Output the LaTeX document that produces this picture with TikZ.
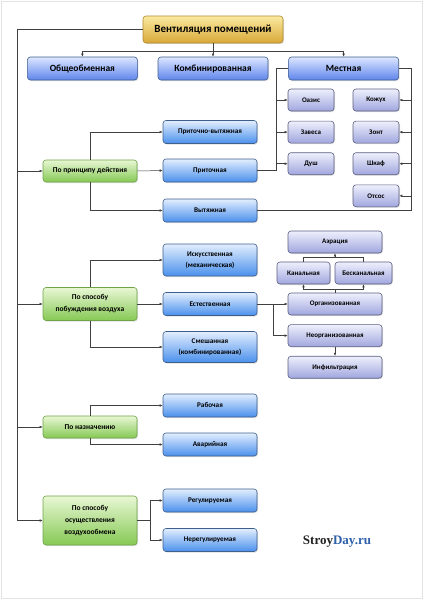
\documentclass[tikz,border=0pt]{standalone}
\usepackage{fontspec}
\setmainfont{Carlito}
\newfontfamily\siteserif{Liberation Serif}
\usepackage{xcolor}
\usepackage{tikz}
\usetikzlibrary{positioning,shadows,arrows.meta}

\definecolor{goldtop}{HTML}{FAEAA0}
\definecolor{goldbot}{HTML}{D8A838}
\definecolor{goldline}{HTML}{B08A30}
\definecolor{bluetop}{HTML}{E2EEFE}
\definecolor{bluebot}{HTML}{4A90EC}
\definecolor{blueline}{HTML}{3E5E8C}
\definecolor{roytop}{HTML}{DCE6FF}
\definecolor{roybot}{HTML}{5F85EC}
\definecolor{lilactop}{HTML}{EEF0FC}
\definecolor{lilacbot}{HTML}{A0A6DE}
\definecolor{lilacline}{HTML}{5A5E80}
\definecolor{greentop}{HTML}{E8F7D4}
\definecolor{greenbot}{HTML}{86C955}
\definecolor{greenline}{HTML}{6FA347}
\definecolor{sitedark}{HTML}{222222}
\definecolor{siteblue}{HTML}{2D5FAA}

\begin{document}
\begin{tikzpicture}[x=1pt, y=-1pt, font=\bfseries,
  box/.style={rectangle, rounded corners=3pt, draw, line width=0.6pt, align=center,
    inner sep=1pt, drop shadow={shadow xshift=1pt, shadow yshift=-1pt, opacity=0.25}},
  titlebox/.style={box, top color=goldtop, bottom color=goldbot, draw=goldline,
    minimum width=140pt, minimum height=27pt, font=\bfseries\fontsize{11}{13}\selectfont},
  mainbox/.style={box, top color=roytop, bottom color=roybot, draw=blueline,
    minimum width=110pt, minimum height=23pt, font=\bfseries\fontsize{9.5}{11}\selectfont},
  groupbox/.style={box, top color=greentop, bottom color=greenbot, draw=greenline,
    minimum width=94pt, minimum height=22pt, font=\bfseries\fontsize{7.5}{12}\selectfont},
  itembox/.style={box, top color=bluetop, bottom color=bluebot, draw=blueline,
    minimum width=94pt, minimum height=23pt, font=\bfseries\fontsize{7.2}{11.5}\selectfont},
  subbox/.style={box, top color=lilactop, bottom color=lilacbot, draw=lilacline,
    minimum width=94pt, minimum height=22pt, font=\bfseries\fontsize{7}{9}\selectfont},
  smallbox/.style={subbox, minimum width=46pt},
  arr/.style={-{Latex[length=3pt,width=2.6pt]}, line width=0.5pt, draw=black!75},
  wire/.style={line width=0.5pt, draw=black!75}]
 \useasboundingbox (0,0) rectangle (424,600);
 \draw[black!10, line width=0.8pt] (1.5,1.5) rectangle (422.5,598.5);

 % top level
 \node [titlebox] (title) at (213,29.5) {Вентиляция помещений};
 \node [mainbox] (comb)  at (213,68.5) {Комбинированная};
 \node [mainbox, left=20pt of comb]  (gen)   {Общеобменная};
 \node [mainbox, right=20pt of comb] (local) {Местная};

 % local devices
 \node [smallbox] (oasis)  at (311,100) {Оазис};
 \node [smallbox, below=9.5pt of oasis]  (curtain) {Завеса};
 \node [smallbox, below=9pt of curtain]  (shower)  {Душ};
 \node [smallbox] (casing) at (376,100) {Кожух};
 \node [smallbox, below=9.5pt of casing] (hood)    {Зонт};
 \node [smallbox, below=9pt of hood]     (cabinet) {Шкаф};
 \node [smallbox, below=9.5pt of cabinet] (suction) {Отсос};

 % groups
 \node [groupbox] (act)   at (90,171)   {По принципу действия};
 \node [groupbox, minimum height=33pt] (drive) at (90,304) {По способу\\побуждения воздуха};
 \node [groupbox] (aim)   at (90,427)   {По назначению};
 \node [groupbox, minimum height=49pt] (mode)  at (90,520.5) {По способу\\осуществления\\воздухообмена};

 % kinds
 \node [itembox] (inout)  at (210,132)   {Приточно-вытяжная};
 \node [itembox] (supply) at (210,170.5) {Приточная};
 \node [itembox] (extr)   at (210,210.5) {Вытяжная};
 \node [itembox, minimum height=32pt] (mech)  at (210,260) {Искусственная\\(механическая)};
 \node [itembox] (nat)    at (210,304)   {Естественная};
 \node [itembox, minimum height=31pt] (mixed) at (210,347) {Смешанная\\(комбинированная)};
 \node [itembox] (work)   at (210,405.5) {Рабочая};
 \node [itembox] (emerg)  at (210,444.5) {Аварийная};
 \node [itembox] (reg)    at (210,500.5) {Регулируемая};
 \node [itembox] (unreg)  at (210,540)   {Нерегулируемая};

 % natural ventilation
 \node [subbox] (org)    at (335,304) {Организованная};
 \node [subbox, below=9pt of org]     (unorg) {Неорганизованная};
 \node [subbox, below=9pt of unorg]   (infil) {Инфильтрация};
 \node [subbox] (aer)    at (335,242) {Аэрация};
 \node [subbox, minimum width=53pt] (duct)   at (303.5,273) {Канальная};
 \node [subbox, minimum width=57pt] (noduct) at (363.5,273) {Бесканальная};

 \node [font=\siteserif\bfseries\fontsize{13}{15}\selectfont] (site) at (337,542)
   {\textcolor{sitedark}{Stroy}\textcolor{siteblue}{Day.ru}};

 % knots
 \coordinate (spine) at (17,520.5);
 \coordinate (bus)   at (213,51);
 \coordinate (lk)    at (276,68.5);
 \coordinate (rk)    at (411,68.5);
 \coordinate (nk)    at (273,304);
 \coordinate (kb)    at (335,289);
 \coordinate (ka)    at (335,257);
 \coordinate (mk)    at (150,520.5);

 % connectors
  \draw[wire] (bus -| gen) -- (bus -| local);
  \draw[arr] (title.south) -- (comb.north);
  \draw[arr] (bus -| gen) -- (gen.north);
  \draw[arr] (bus -| local) -- (local.north);
  \draw[arr] (title.west) -| (spine) -- (mode.west);
  \draw[arr] (act.west -| spine) -- (act.west);
  \draw[arr] (drive.west -| spine) -- (drive.west);
  \draw[arr] (aim.west -| spine) -- (aim.west);
  \draw[wire] (local.west) -- (lk) |- (supply.east);
  \draw[wire] (local.east) -- (rk) |- (extr.east);
  \draw[arr] (oasis.west -| lk) -- (oasis.west);
  \draw[arr] (curtain.west -| lk) -- (curtain.west);
  \draw[arr] (shower.west -| lk) -- (shower.west);
  \draw[arr] (casing.east -| rk) -- (casing.east);
  \draw[arr] (hood.east -| rk) -- (hood.east);
  \draw[arr] (cabinet.east -| rk) -- (cabinet.east);
  \draw[arr] (suction.east -| rk) -- (suction.east);
  \draw[arr] (act.north) |- (inout.west);
  \draw[arr] (act.east) -- (supply.west);
  \draw[arr] (act.south) |- (extr.west);
  \draw[arr] (drive.north) |- (mech.west);
  \draw[arr] (drive.east) -- (nat.west);
  \draw[arr] (drive.south) |- (mixed.west);
  \draw[arr] (nat.east) -- (org.west);
  \draw[arr] (nk) |- (unorg.west);
  \draw[arr] (unorg.south) -- (infil.north);
  \draw[wire] (org.north) -- (kb);
  \draw[arr] (kb) -| (duct.south);
  \draw[arr] (kb) -| (noduct.south);
  \draw[wire] (duct.north) |- (ka);
  \draw[wire] (noduct.north) |- (ka);
  \draw[arr] (ka) -- (aer.south);
  \draw[arr] (aim.north) |- (work.west);
  \draw[arr] (aim.south) |- (emerg.west);
  \draw[wire] (mode.east) -- (mk);
  \draw[arr] (mk) |- (reg.west);
  \draw[arr] (mk) |- (unreg.west);
\end{tikzpicture}
\end{document}
